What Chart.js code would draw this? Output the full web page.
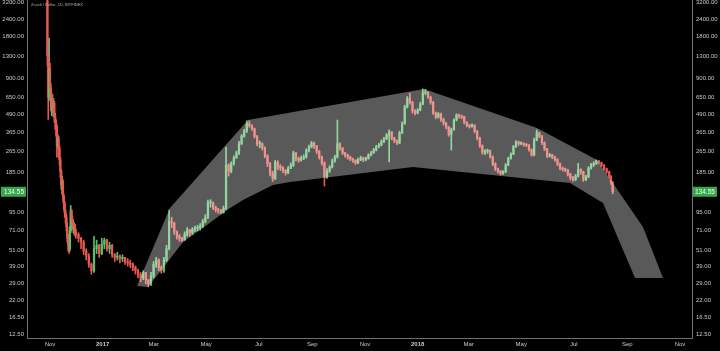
<!DOCTYPE html>
<html><head><meta charset="utf-8">
<script src="https://cdn.jsdelivr.net/npm/chart.js@4.4.1/dist/chart.umd.min.js"></script>
<style>html,body{margin:0;padding:0;background:#000;}#wrap{width:720px;height:351px;}</style>
</head><body><div id="wrap"><canvas id="c" width="720" height="351"></canvas></div>
<script>
// x values are days counted from 1 Nov 2016
const days = [-3,-2,-1,0,1,2,3,4,5,6,7,8,9,10,11,12,13,14,15,16,17,18,19,20,21,22,23,24,25,26,27,28,29,30,
33,36,39,42,45,48,51,54,57,60,
63,66,69,72,75,78,81,84,87,90,
93,96,99,102,105,108,111,114,117,120,
123,126,129,132,135,138,141,144,147,150,
153,156,159,162,165,168,171,174,177,180,
183,186,189,192,195,198,201,204,207,210,
213,216,219,222,225,228,231,234,237,240,
243,246,249,252,255,258,261,264,267,270,
273,276,279,282,285,288,291,294,297,300,
303,306,309,312,315,318,321,324,327,330,
333,336,339,342,345,348,351,354,357,360,
363,366,369,372,375,378,381,384,387,390,
393,396,399,402,405,408,411,414,417,420,
423,426,429,432,435,438,441,444,447,450,
453,456,459,462,465,468,471,474,477,480,
483,486,489,492,495,498,501,504,507,510,
513,516,519,522,525,528,531,534,537,540,
543,546,549,552,555,558,561,564,567,570,
573,576,579,582,585,588,591,594,597,600,
603,606,609,612,615,618,621,624,627,630,
633,636,639,642,645,648,650,652];

const firstOpen = 3250;
const closes = [1300,650,1050,760,600,640,560,590,480,430,400,290,330,280,230,190,150,160,125,110,95,88,75,62,55,52,70,98,85,80,72,75,68,66,
62,58,50,46,40,36,52,55,48,56,
60,52,55,47,45,46,44,45,42,41,
40,38,36,34,32,35,31,28.5,33,40,
43,38,36,43,52,82,80,69,64,62,
60,66,71,68,72,73,74,76,82,88,
112,112,104,100,99,95,102,210,190,215,
237,257,300,340,370,420,405,385,340,300,
300,280,245,215,185,168,220,205,200,192,
185,200,210,257,235,228,236,240,268,285,
304,290,265,240,218,172,190,203,225,240,
300,280,257,248,240,232,228,218,230,237,
229,235,249,258,270,285,294,311,325,347,
365,330,315,304,360,420,554,640,600,520,
501,527,580,700,710,655,600,501,469,495,
450,424,397,350,380,446,485,475,469,430,
410,400,410,370,330,290,260,265,268,242,
215,198,190,183,188,210,235,252,286,310,
300,302,296,294,272,249,320,360,340,305,
275,245,249,240,230,214,199,196,194,180,
170,165,175,195,188,165,173,200,212,216,
226,219,210,198,188,175,158,134.55];

const highs = [3300,1700,1750,1150,820,700,680,640,610,500,450,410,350,340,290,240,195,175,165,130,115,100,92,80,66,58,75,107,100,90,84,80,78,72,
68,63,60,52,48,41,64,60,56,62,
62,61,58,56,48,49,47,47,45,44,
43,41,39,37,35,36,35,31,35,42,
45,44,39,45,55,99,88,81,70,66,
63,69,74,72,74,76,77,79,85,92,
117,118,114,106,102,100,106,284,215,222,
245,266,312,350,382,440,440,412,390,345,
315,305,285,250,220,190,228,226,212,205,
195,205,218,265,260,240,244,250,276,294,
312,308,292,268,244,222,198,208,232,248,
446,305,282,260,252,244,236,230,236,244,
240,240,254,264,278,292,302,320,334,356,
378,368,335,320,370,432,572,660,700,610,
530,540,600,750,745,715,665,610,510,505,
500,460,430,402,390,455,495,492,485,475,
435,415,418,412,375,335,295,272,275,270,
245,218,200,192,192,216,240,258,292,316,
314,310,305,300,296,275,330,378,365,345,
310,278,256,252,244,234,218,204,200,196,
184,174,180,216,198,190,177,205,216,222,
229,227,221,212,200,190,176,160];

const lows = [1100,450,620,640,520,480,500,470,430,380,340,240,280,240,210,170,140,130,115,100,88,80,70,58,50,48,50,68,80,72,68,66,64,62,
58,52,47,43,38,34,35,48,45,47,
52,50,48,45,42,43,41,42,40,39,
38,36,34,32,30,31,29,27.5,28,32,
38,36,34.5,35,42,51,74,66,61,59,
58.5,60,64,64,66,69,70,71,74,80,
86,104,100,96,94,93,94,100,175,185,
210,235,250,295,335,362,395,375,330,290,
280,270,238,205,175,160,165,195,192,185,
178,182,198,205,225,220,224,230,236,262,
280,278,255,232,210,148,168,186,200,220,
236,270,250,240,232,226,220,212,215,226,
222,225,232,245,255,266,280,290,305,322,
222,320,305,295,300,355,415,545,580,500,
485,495,520,575,680,640,580,490,455,460,
435,410,385,340,270,375,440,460,455,418,
398,390,395,360,320,282,252,250,255,236,
208,192,184,178,180,185,208,232,250,282,
292,295,288,286,265,244,245,315,332,296,
268,238,240,234,224,208,194,190,188,175,
164,160,162,172,180,160,162,170,196,205,
212,214,205,193,183,170,152,130];

// grey projection shape (outline, clockwise)
const shapeDays   = [100.8,139,229.4,433.4,564.3,633.8,687.1,710.3,677.9,640.8,602.5,420.6,278,258.4,223.6,205.1,181.9,154.1,130.9,113.6,100.8];
const shapePrices = [27.9,102.6,446,748,390,229,74.8,31.9,31.9,111.6,156,203.5,158.4,150.6,117.3,99.3,77.3,58.2,37.7,27.4,27.9];

const yTickValues = [3200,2400,1800,1300,900,650,490,365,265,185,95,71,51,39,29,22,16.5,12.5];
const xTickDays   = [0,61,120,181,242,304,365,426,485,546,607,669,730];
const xTickLabels = ['Nov','2017','Mar','May','Jul','Sep','Nov','2018','Mar','May','Jul','Sep','Nov'];
const yearTicks   = [61,426];
const titleText = 'Zcash / Dollar, 1D, BITFINEX';

const X_MIN = -26.65, X_MAX = 743.9, Y_MIN = 11.71, Y_MAX = 3309;
const FONT = '"Liberation Sans", Arial, sans-serif';
const UP = '#5cbf6e', DOWN = '#e85a50', AXIS = '#707070', LABEL = '#c8c8c8';

const opens = closes.map((c, i) => i === 0 ? firstOpen : closes[i - 1]);
const colors = closes.map((c, i) => c >= opens[i] ? UP : DOWN);
const bodyData = days.map((d, i) => ({x: d, y: [opens[i], closes[i]]}));
const wickData = days.map((d, i) => ({x: d, y: [lows[i], highs[i]]}));
const shapeData = shapeDays.map((d, i) => ({x: d, y: shapePrices[i]}));
const lastPrice = closes[closes.length - 1];

const overlay = {
  id: 'overlay',
  afterDraw(chart) {
    const c = chart.ctx;
    const y = chart.scales.y.getPixelForValue(lastPrice);
    c.save();
    c.fillStyle = '#36a84c';
    c.fillRect(1, y - 5, 25, 10);
    c.fillRect(693, y - 5, 24, 10);
    c.fillStyle = '#f2fff2';
    c.font = '6.5px ' + FONT;
    c.textBaseline = 'middle';
    c.textAlign = 'right';
    c.fillText(lastPrice.toFixed(2), 24, y + 0.5);
    c.textAlign = 'left';
    c.fillText(lastPrice.toFixed(2), 695, y + 0.5);
    c.fillStyle = '#b0b0b0';
    c.font = '4px ' + FONT;
    c.textBaseline = 'middle';
    c.fillText(titleText, 31, 4.5);
    c.restore();
  }
};

function yAxis(pos, width, pad) {
  return {
    type: 'logarithmic', position: pos, min: Y_MIN, max: Y_MAX, bounds: 'data',
    grid: {display: false, drawTicks: false},
    border: {display: true, color: AXIS, width: 1},
    afterBuildTicks: s => { s.ticks = yTickValues.map(v => ({value: v})); },
    afterFit: s => { s.width = width; s.paddingTop = 0; s.paddingBottom = 0; },
    ticks: {autoSkip: false, padding: pad, color: LABEL, font: {family: FONT, size: 6},
            callback: v => Number(v).toFixed(2)}
  };
}

new Chart(document.getElementById('c'), {
  type: 'bar',
  data: {datasets: [
    {type: 'line', data: shapeData, fill: 'shape', backgroundColor: 'rgba(255,255,255,0.35)',
     borderColor: 'rgba(0,0,0,0)', borderWidth: 0, pointRadius: 0, tension: 0, order: 0},
    {type: 'bar', data: bodyData, backgroundColor: colors, barThickness: 1.6, grouped: false,
     borderWidth: 0, minBarLength: 1, order: 1},
    {type: 'bar', data: wickData, backgroundColor: colors, barThickness: 1, grouped: false,
     borderWidth: 0, order: 2}
  ]},
  options: {
    responsive: false, animation: false, events: [],
    layout: {padding: 0},
    plugins: {legend: {display: false}, tooltip: {enabled: false}},
    scales: {
      x: {
        type: 'linear', min: X_MIN, max: X_MAX, offset: false, bounds: 'data',
        grid: {display: false, drawTicks: false},
        border: {display: true, color: AXIS, width: 1},
        afterBuildTicks: s => { s.ticks = xTickDays.map(v => ({value: v})); },
        afterFit: s => { s.height = 13; s.paddingLeft = 0; s.paddingRight = 0; },
        ticks: {
          autoSkip: false, maxRotation: 0, padding: 3, color: LABEL,
          font: c => ({family: FONT, size: 6, weight: (c.tick && yearTicks.includes(c.tick.value)) ? 'bold' : 'normal'}),
          callback: v => { const i = xTickDays.indexOf(v); return i >= 0 ? xTickLabels[i] : ''; }
        }
      },
      y: yAxis('left', 27, 3),
      y2: yAxis('right', 28, 4)
    }
  },
  plugins: [overlay]
});
</script>
</body></html>
